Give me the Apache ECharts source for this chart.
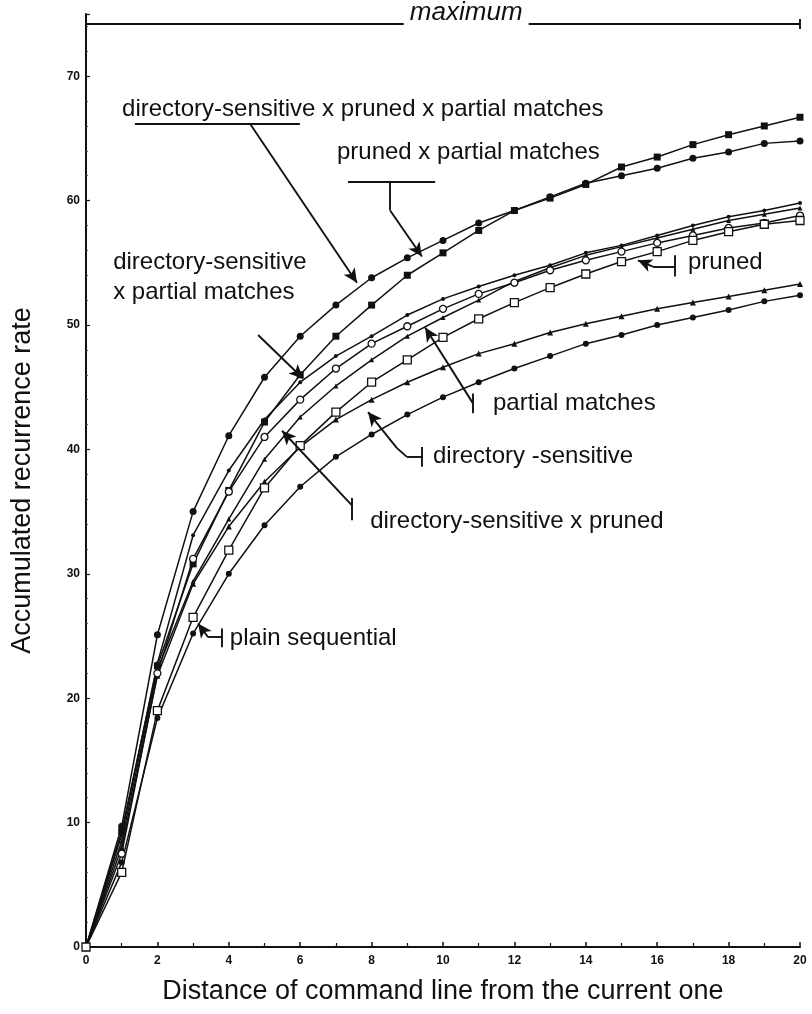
<!DOCTYPE html>
<html><head><meta charset="utf-8">
<script src="https://cdn.jsdelivr.net/npm/echarts@6/dist/echarts.min.js"></script>
<style>html,body{margin:0;padding:0;background:#fff}#c{width:812px;height:1014px}</style>
</head><body><div id="c"></div>
<script>
// ---- data ----
const distances = [0,1,2,3,4,5,6,7,8,9,10,11,12,13,14,15,16,17,18,19,20];
const dirPrunedPartial   = [0,9.7,25.1,35.0,41.1,45.8,49.1,51.6,53.8,55.4,56.8,58.2,59.2,60.3,61.4,62.0,62.6,63.4,63.9,64.6,64.8];
const prunedPartial      = [0,9.3,22.6,30.8,36.7,42.2,46.0,49.1,51.6,54.0,55.8,57.6,59.2,60.2,61.3,62.7,63.5,64.5,65.3,66.0,66.7];
const dirPartial         = [0,9.0,22.8,33.1,38.3,42.4,45.4,47.5,49.1,50.8,52.1,53.1,54.0,54.8,55.8,56.4,57.2,58.0,58.7,59.2,59.8];
const dirPruned          = [0,7.5,22.0,31.2,36.6,41.0,44.0,46.5,48.5,49.9,51.3,52.5,53.4,54.4,55.2,55.9,56.6,57.2,57.8,58.2,58.8];
const partialMatches     = [0,8.5,22.3,29.4,34.4,39.2,42.6,45.1,47.2,49.1,50.6,52.0,53.5,54.6,55.6,56.3,57.0,57.7,58.4,58.9,59.4];
const pruned             = [0,6.0,19.0,26.5,31.9,36.9,40.3,43.0,45.4,47.2,49.0,50.5,51.8,53.0,54.1,55.1,55.9,56.8,57.5,58.1,58.4];
const directorySensitive = [0,8.0,21.8,29.2,33.8,37.4,40.2,42.4,44.0,45.4,46.6,47.7,48.5,49.4,50.1,50.7,51.3,51.8,52.3,52.8,53.3];
const plainSequential    = [0,6.8,18.4,25.2,30.0,33.9,37.0,39.4,41.2,42.8,44.2,45.4,46.5,47.5,48.5,49.2,50.0,50.6,51.2,51.9,52.4];
const xTicks = [0,2,4,6,8,10,12,14,16,18,20];
const yTicks = [0,10,20,30,40,50,60,70];
const maximumRate = 74.2;

// ---- annotations (data coordinates) ----
const annTexts = [
  {t:'directory-sensitive x pruned x partial matches', p:[1.01,67.3]},
  {t:'pruned x partial matches', p:[7.03,63.9]},
  {t:'directory-sensitive', p:[0.76,55.0]},
  {t:'x partial matches', p:[0.76,52.6]},
  {t:'pruned', p:[16.86,55.0]},
  {t:'partial matches', p:[11.4,43.7]},
  {t:'directory -sensitive', p:[9.72,39.4]},
  {t:'directory-sensitive x pruned', p:[7.96,34.2]},
  {t:'plain sequential', p:[4.03,24.8]}
];
// segments: [from, to, arrowAtEnd]
const annSegs = [
  [[1.37,66.2],[5.99,66.2],0],
  [[4.59,66.2],[7.59,53.4],1],
  [[7.34,61.5],[9.78,61.5],0],
  [[8.52,61.5],[8.52,59.2],0],
  [[8.52,59.2],[9.41,55.5],1],
  [[4.82,49.2],[6.08,45.7],1],
  [[16.5,55.6],[16.5,53.9],0],
  [[16.5,54.7],[15.88,54.7],0],
  [[15.88,54.7],[15.46,55.2],1],
  [[10.84,44.5],[10.84,42.9],0],
  [[10.84,43.7],[9.50,49.8],1],
  [[9.41,40.2],[9.41,38.6],0],
  [[9.41,39.4],[8.99,39.4],0],
  [[8.99,39.4],[8.71,40.1],0],
  [[8.71,40.1],[7.90,43.0],1],
  [[7.45,36.1],[7.45,34.3],0],
  [[7.45,35.5],[5.49,41.5],1],
  [[3.81,25.6],[3.81,24.1],0],
  [[3.81,24.9],[3.42,24.9],0],
  [[3.42,24.9],[3.14,26.0],1],
  [[0,maximumRate],[8.9,maximumRate],0],
  [[12.4,maximumRate],[20,maximumRate],0],
  [[20,maximumRate-0.4],[20,maximumRate+0.4],0]
];

const pairs = arr => distances.map((d,i)=>[d,arr[i]]);
const FONT = '"Liberation Sans", Arial, Helvetica, sans-serif';

function mkSeries(name, arr, symbol, size, hollow){
  return {
    name, type:'line', data: pairs(arr), symbol, symbolSize:size, showSymbol:true,
    lineStyle:{color:'#111', width:1.5},
    itemStyle: hollow ? {color:'#fff', borderColor:'#111', borderWidth:1.3} : {color:'#111', borderColor:'#111', borderWidth:0},
    emphasis:{disabled:true}, z: hollow ? 3 : 2
  };
}

const chart = echarts.init(document.getElementById('c'), null, {renderer:'canvas'});
const option = {
  animation:false,
  backgroundColor:'#fff',
  grid:{left:86, right:12, top:14, bottom:67, containLabel:false},
  xAxis:{
    type:'value', min:0, max:20, interval:2,
    name:'Distance of command line from the current one', nameLocation:'middle', nameGap:31,
    nameTextStyle:{fontSize:27, color:'#111', fontFamily:FONT},
    axisLine:{lineStyle:{color:'#111', width:2}},
    axisTick:{inside:true, length:5, lineStyle:{color:'#111', width:1.5}},
    minorTick:{show:true, splitNumber:2, length:4, lineStyle:{color:'#111', width:1.2}},
    axisLabel:{fontSize:12, fontWeight:'bold', color:'#111', fontFamily:FONT, margin:8,
      formatter: v => xTicks.includes(v) ? String(v) : ''},
    splitLine:{show:false}, minorSplitLine:{show:false}
  },
  yAxis:{
    type:'value', min:0, max:75, interval:10,
    name:'Accumulated recurrence rate', nameLocation:'middle', nameGap:50,
    nameTextStyle:{fontSize:27, color:'#111', fontFamily:FONT},
    axisLine:{show:true, lineStyle:{color:'#111', width:2}},
    axisTick:{show:true, inside:true, length:4, lineStyle:{color:'#111', width:1.2}},
    minorTick:{show:true, splitNumber:5, length:2, lineStyle:{color:'#555', width:1}},
    axisLabel:{fontSize:12, fontWeight:'bold', color:'#111', fontFamily:FONT, margin:6,
      formatter: v => yTicks.includes(v) ? String(v) : ''},
    splitLine:{show:false}
  },
  series:[
    mkSeries('directory-sensitive x pruned x partial matches', dirPrunedPartial, 'circle', 7, false),
    mkSeries('pruned x partial matches', prunedPartial, 'rect', 7, false),
    mkSeries('directory-sensitive x partial matches', dirPartial, 'circle', 4, false),
    mkSeries('directory-sensitive x pruned', dirPruned, 'circle', 7, true),
    mkSeries('partial matches', partialMatches, 'triangle', 5, false),
    mkSeries('pruned', pruned, 'rect', 8, true),
    mkSeries('directory-sensitive', directorySensitive, 'triangle', 6, false),
    mkSeries('plain sequential', plainSequential, 'circle', 6, false),
    {
      name:'annotations', type:'line', data:[], silent:true,
      markLine:{
        silent:true, animation:false, symbolSize:[10,14], precision:2,
        label:{show:false},
        lineStyle:{color:'#111', width:1.9, type:'solid'},
        emphasis:{disabled:true},
        data: annSegs.map(s => [
          {coord:s[0], symbol:'none'},
          {coord:s[1], symbol: s[2] ? 'arrow' : 'none'}
        ])
      }
    }
  ]
};
chart.setOption(option);

const g = annTexts.map(a => {
  const pt = chart.convertToPixel({xAxisIndex:0, yAxisIndex:0}, a.p);
  return {type:'text', x:pt[0], y:pt[1], silent:true, z:10,
    style:{text:a.t, font:'24px ' + FONT, fill:'#111', textAlign:'left', textVerticalAlign:'middle'}};
});
const mp = chart.convertToPixel({xAxisIndex:0, yAxisIndex:0}, [10.65, maximumRate]);
g.push({type:'text', x:mp[0], y:mp[1]-11, silent:true, z:10,
  style:{text:'maximum', font:'italic 26px ' + FONT, fill:'#111', textAlign:'center', textVerticalAlign:'middle'}});
chart.setOption({graphic:g});
</script>
</body></html>
